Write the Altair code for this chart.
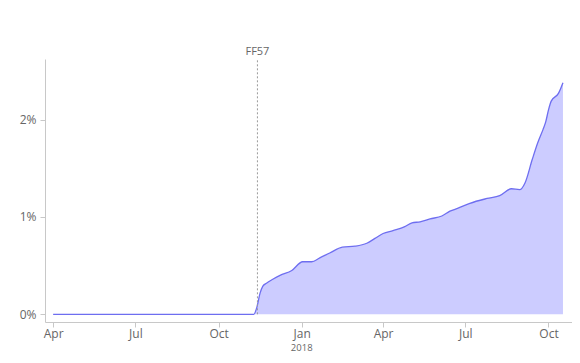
import altair as alt
import pandas as pd

# Share of users (%) over time
dates = [
    "2017-04-01", "2017-05-15", "2017-07-01", "2017-08-15", "2017-10-01", "2017-11-09",
    "2017-11-12", "2017-11-16", "2017-11-19", "2017-11-23", "2017-11-30", "2017-12-08",
    "2017-12-21", "2018-01-02", "2018-01-12", "2018-01-21", "2018-02-01", "2018-02-15",
    "2018-03-01", "2018-03-14", "2018-03-23", "2018-04-01", "2018-04-12", "2018-04-25",
    "2018-05-03", "2018-05-12", "2018-05-23", "2018-06-05", "2018-06-14", "2018-06-23",
    "2018-07-06", "2018-07-25", "2018-08-08", "2018-08-21", "2018-08-30", "2018-09-05",
    "2018-09-13", "2018-09-19", "2018-09-25", "2018-09-28", "2018-10-01", "2018-10-04",
    "2018-10-12", "2018-10-17",
]
pct = [
    0.0, 0.0, 0.0, 0.0, 0.0, 0.0,
    0.06, 0.22, 0.29, 0.32, 0.36, 0.40,
    0.45, 0.54, 0.54, 0.58, 0.63, 0.69,
    0.70, 0.73, 0.78, 0.83, 0.86, 0.90,
    0.94, 0.95, 0.98, 1.01, 1.06, 1.09,
    1.14, 1.19, 1.22, 1.29, 1.28, 1.35,
    1.59, 1.76, 1.90, 1.98, 2.10, 2.19,
    2.27, 2.38,
]

event_dates = ["2017-11-13"]
event_labels = ["FF57"]
event_base = [0.0]

year_dates = ["2018-01-01"]
year_labels = ["2018"]

y_ticks = [0, 0.01, 0.02]

df = pd.DataFrame({"date": dates, "share": [p / 100 for p in pct]})
ev = pd.DataFrame({"date": event_dates, "label": event_labels, "base": event_base})
yr = pd.DataFrame({"date": year_dates, "label": year_labels})

W, H = 527, 263
FONT = "Open Sans"
GREY = "#666666"

x_scale = alt.Scale(
    type="utc",
    domain=[alt.DateTime(year=2017, month=3, date=23, utc=True),
            alt.DateTime(year=2018, month=10, date=27, utc=True)],
)
y_scale = alt.Scale(domain=[-0.00079, 0.02623], nice=False, zero=False)

tick_values = [
    alt.DateTime(year=2017, month=4, date=1, utc=True),
    alt.DateTime(year=2017, month=7, date=1, utc=True),
    alt.DateTime(year=2017, month=10, date=1, utc=True),
    alt.DateTime(year=2018, month=1, date=1, utc=True),
    alt.DateTime(year=2018, month=4, date=1, utc=True),
    alt.DateTime(year=2018, month=7, date=1, utc=True),
    alt.DateTime(year=2018, month=10, date=1, utc=True),
]

x_enc = alt.X(
    "date:T", scale=x_scale, title=None,
    axis=alt.Axis(values=tick_values, format="%b", grid=False, tickSize=5,
                  labelPadding=1, labelFontSize=12, labelColor=GREY,
                  domainColor="#c8c8c8", tickColor="#c8c8c8", labelFont=FONT),
)
y_enc = alt.Y(
    "share:Q", scale=y_scale, title=None,
    axis=alt.Axis(values=y_ticks, format=".0%", grid=False, tickSize=5,
                  labelPadding=4, labelFontSize=12, labelColor=GREY,
                  domainColor="#c8c8c8", tickColor="#c8c8c8", labelFont=FONT),
)

area = alt.Chart(df).mark_area(interpolate="monotone", color="#ccccff", opacity=1).encode(
    x=x_enc, y=y_enc
)
line = alt.Chart(df).mark_line(interpolate="monotone", color="#6e6ef0", strokeWidth=1.3).encode(
    x="date:T", y="share:Q"
)

rule = alt.Chart(ev).mark_rule(color="#9a9a9a", strokeDash=[2, 2], strokeWidth=1).encode(
    x="date:T", y="base:Q", y2=alt.value(0)
)
rule_text = alt.Chart(ev).mark_text(
    baseline="bottom", align="center", fontSize=11, font=FONT, color=GREY, dy=-2
).encode(x="date:T", y=alt.value(0), text="label:N")

year_text = alt.Chart(yr).mark_text(
    baseline="alphabetic", align="center", fontSize=9.5, font=FONT, color=GREY
).encode(x="date:T", y=alt.value(H + 29), text="label:N")

chart = alt.layer(area, line, rule, rule_text, year_text).properties(
    width=W, height=H,
    autosize=alt.AutoSizeParams(type="none"),
    padding={"left": 37, "top": 51, "right": 0, "bottom": 31},
).configure(background="white").configure_view(strokeWidth=0)

chart.save("out.html", embed_options={"renderer": "svg", "actions": False})
